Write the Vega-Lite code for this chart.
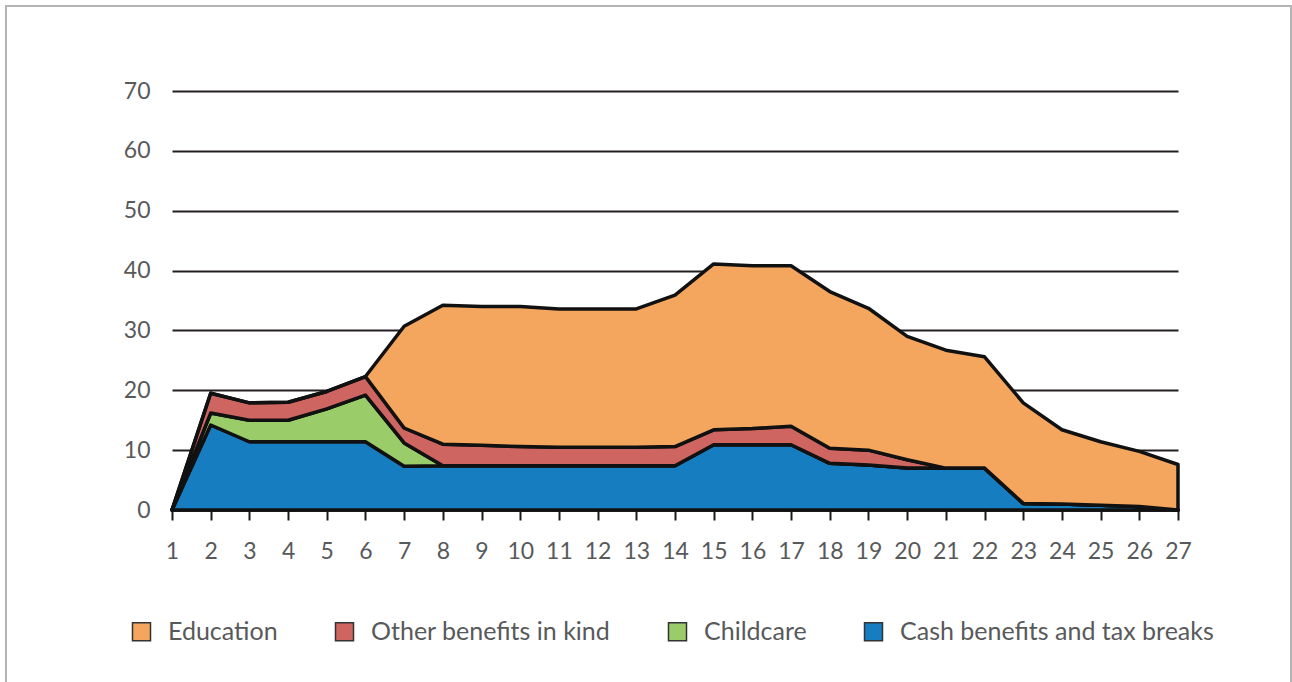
{
  "$schema": "https://vega.github.io/schema/vega-lite/v6.json",
  "width": 1006,
  "height": 419,
  "autosize": {"type": "none"},
  "padding": {"left": 172, "top": 91, "right": 114, "bottom": 172},
  "background": "white",
  "config": {
    "view": {"stroke": null},
    "font": "Lato",
    "axis": {"labelOverlap": false},
    "axisX": {
      "title": null,
      "format": "d",
      "grid": false,
      "domain": true,
      "domainColor": "#1a1a1a",
      "domainWidth": 2.5,
      "ticks": true,
      "tickSize": 10,
      "tickWidth": 2,
      "tickColor": "#1a1a1a",
      "labelFontSize": 23,
      "labelColor": "#58595b",
      "labelPadding": 20,
      "labelFlush": false,
      "labelOverlap": false
    },
    "axisY": {
      "title": null,
      "domain": false,
      "ticks": false,
      "grid": true,
      "gridColor": "#231f20",
      "gridWidth": 2,
      "gridOpacity": 1,
      "labelFontSize": 23,
      "labelColor": "#58595b",
      "labelPadding": 22
    }
  },
  "data": {
    "values": [
      {"age": 1, "series": "Cash benefits and tax breaks", "value": 0},
      {"age": 2, "series": "Cash benefits and tax breaks", "value": 14.2},
      {"age": 3, "series": "Cash benefits and tax breaks", "value": 11.4},
      {"age": 4, "series": "Cash benefits and tax breaks", "value": 11.4},
      {"age": 5, "series": "Cash benefits and tax breaks", "value": 11.4},
      {"age": 6, "series": "Cash benefits and tax breaks", "value": 11.4},
      {"age": 7, "series": "Cash benefits and tax breaks", "value": 7.3},
      {"age": 8, "series": "Cash benefits and tax breaks", "value": 7.4},
      {"age": 9, "series": "Cash benefits and tax breaks", "value": 7.4},
      {"age": 10, "series": "Cash benefits and tax breaks", "value": 7.4},
      {"age": 11, "series": "Cash benefits and tax breaks", "value": 7.4},
      {"age": 12, "series": "Cash benefits and tax breaks", "value": 7.4},
      {"age": 13, "series": "Cash benefits and tax breaks", "value": 7.4},
      {"age": 14, "series": "Cash benefits and tax breaks", "value": 7.4},
      {"age": 15, "series": "Cash benefits and tax breaks", "value": 10.9},
      {"age": 16, "series": "Cash benefits and tax breaks", "value": 10.9},
      {"age": 17, "series": "Cash benefits and tax breaks", "value": 10.9},
      {"age": 18, "series": "Cash benefits and tax breaks", "value": 7.8},
      {"age": 19, "series": "Cash benefits and tax breaks", "value": 7.5},
      {"age": 20, "series": "Cash benefits and tax breaks", "value": 7.0},
      {"age": 21, "series": "Cash benefits and tax breaks", "value": 7.0},
      {"age": 22, "series": "Cash benefits and tax breaks", "value": 7.0},
      {"age": 23, "series": "Cash benefits and tax breaks", "value": 1.1},
      {"age": 24, "series": "Cash benefits and tax breaks", "value": 1.0},
      {"age": 25, "series": "Cash benefits and tax breaks", "value": 0.8},
      {"age": 26, "series": "Cash benefits and tax breaks", "value": 0.6},
      {"age": 27, "series": "Cash benefits and tax breaks", "value": 0},

      {"age": 1, "series": "Childcare", "value": 0},
      {"age": 2, "series": "Childcare", "value": 2.0},
      {"age": 3, "series": "Childcare", "value": 3.6},
      {"age": 4, "series": "Childcare", "value": 3.6},
      {"age": 5, "series": "Childcare", "value": 5.5},
      {"age": 6, "series": "Childcare", "value": 7.8},
      {"age": 7, "series": "Childcare", "value": 3.9},
      {"age": 8, "series": "Childcare", "value": 0},
      {"age": 9, "series": "Childcare", "value": 0},
      {"age": 10, "series": "Childcare", "value": 0},
      {"age": 11, "series": "Childcare", "value": 0},
      {"age": 12, "series": "Childcare", "value": 0},
      {"age": 13, "series": "Childcare", "value": 0},
      {"age": 14, "series": "Childcare", "value": 0},
      {"age": 15, "series": "Childcare", "value": 0},
      {"age": 16, "series": "Childcare", "value": 0},
      {"age": 17, "series": "Childcare", "value": 0},
      {"age": 18, "series": "Childcare", "value": 0},
      {"age": 19, "series": "Childcare", "value": 0},
      {"age": 20, "series": "Childcare", "value": 0},
      {"age": 21, "series": "Childcare", "value": 0},
      {"age": 22, "series": "Childcare", "value": 0},
      {"age": 23, "series": "Childcare", "value": 0},
      {"age": 24, "series": "Childcare", "value": 0},
      {"age": 25, "series": "Childcare", "value": 0},
      {"age": 26, "series": "Childcare", "value": 0},
      {"age": 27, "series": "Childcare", "value": 0},

      {"age": 1, "series": "Other benefits in kind", "value": 0},
      {"age": 2, "series": "Other benefits in kind", "value": 3.3},
      {"age": 3, "series": "Other benefits in kind", "value": 2.9},
      {"age": 4, "series": "Other benefits in kind", "value": 3.0},
      {"age": 5, "series": "Other benefits in kind", "value": 2.9},
      {"age": 6, "series": "Other benefits in kind", "value": 3.1},
      {"age": 7, "series": "Other benefits in kind", "value": 2.5},
      {"age": 8, "series": "Other benefits in kind", "value": 3.6},
      {"age": 9, "series": "Other benefits in kind", "value": 3.4},
      {"age": 10, "series": "Other benefits in kind", "value": 3.2},
      {"age": 11, "series": "Other benefits in kind", "value": 3.1},
      {"age": 12, "series": "Other benefits in kind", "value": 3.1},
      {"age": 13, "series": "Other benefits in kind", "value": 3.1},
      {"age": 14, "series": "Other benefits in kind", "value": 3.2},
      {"age": 15, "series": "Other benefits in kind", "value": 2.5},
      {"age": 16, "series": "Other benefits in kind", "value": 2.7},
      {"age": 17, "series": "Other benefits in kind", "value": 3.1},
      {"age": 18, "series": "Other benefits in kind", "value": 2.5},
      {"age": 19, "series": "Other benefits in kind", "value": 2.5},
      {"age": 20, "series": "Other benefits in kind", "value": 1.4},
      {"age": 21, "series": "Other benefits in kind", "value": 0},
      {"age": 22, "series": "Other benefits in kind", "value": 0},
      {"age": 23, "series": "Other benefits in kind", "value": 0},
      {"age": 24, "series": "Other benefits in kind", "value": 0},
      {"age": 25, "series": "Other benefits in kind", "value": 0},
      {"age": 26, "series": "Other benefits in kind", "value": 0},
      {"age": 27, "series": "Other benefits in kind", "value": 0},

      {"age": 1, "series": "Education", "value": 0},
      {"age": 2, "series": "Education", "value": 0},
      {"age": 3, "series": "Education", "value": 0},
      {"age": 4, "series": "Education", "value": 0},
      {"age": 5, "series": "Education", "value": 0},
      {"age": 6, "series": "Education", "value": 0},
      {"age": 7, "series": "Education", "value": 17.0},
      {"age": 8, "series": "Education", "value": 23.2},
      {"age": 9, "series": "Education", "value": 23.2},
      {"age": 10, "series": "Education", "value": 23.4},
      {"age": 11, "series": "Education", "value": 23.1},
      {"age": 12, "series": "Education", "value": 23.1},
      {"age": 13, "series": "Education", "value": 23.1},
      {"age": 14, "series": "Education", "value": 25.3},
      {"age": 15, "series": "Education", "value": 27.7},
      {"age": 16, "series": "Education", "value": 27.2},
      {"age": 17, "series": "Education", "value": 26.8},
      {"age": 18, "series": "Education", "value": 26.2},
      {"age": 19, "series": "Education", "value": 23.7},
      {"age": 20, "series": "Education", "value": 20.6},
      {"age": 21, "series": "Education", "value": 19.7},
      {"age": 22, "series": "Education", "value": 18.6},
      {"age": 23, "series": "Education", "value": 16.8},
      {"age": 24, "series": "Education", "value": 12.4},
      {"age": 25, "series": "Education", "value": 10.6},
      {"age": 26, "series": "Education", "value": 9.2},
      {"age": 27, "series": "Education", "value": 7.6}
    ]
  },
  "layer": [
    {
      "transform": [
        {
          "calculate": "indexof(['Cash benefits and tax breaks', 'Childcare', 'Other benefits in kind', 'Education'], datum.series)",
          "as": "stackIndex"
        }
      ],
      "mark": {
        "type": "area",
        "line": false,
        "stroke": "#111111",
        "strokeWidth": 3.5,
        "strokeJoin": "round",
        "opacity": 1,
        "fillOpacity": 1
      },
      "encoding": {
        "x": {
          "field": "age",
          "type": "quantitative",
          "scale": {"domain": [1, 27], "nice": false, "zero": false},
          "axis": {"values": [1, 2, 3, 4, 5, 6, 7, 8, 9, 10, 11, 12, 13, 14, 15, 16, 17, 18, 19, 20, 21, 22, 23, 24, 25, 26, 27]}
        },
        "y": {
          "field": "value",
          "type": "quantitative",
          "stack": "zero",
          "scale": {"domain": [0, 70], "nice": false},
          "axis": {"values": [0, 10, 20, 30, 40, 50, 60, 70]}
        },
        "color": {
          "field": "series",
          "type": "nominal",
          "scale": {
            "domain": ["Education", "Other benefits in kind", "Childcare", "Cash benefits and tax breaks"],
            "range": ["#f4a65e", "#cf6560", "#9acc6a", "#167dc0"]
          },
          "legend": {
            "title": null,
            "orient": "none",
            "direction": "horizontal",
            "legendX": -43,
            "legendY": 528,
            "symbolType": "square",
            "symbolSize": 324,
            "symbolStrokeColor": "#333333",
            "symbolStrokeWidth": 1.5,
            "symbolOpacity": 1,
            "labelFontSize": 25,
            "labelColor": "#58595b",
            "labelOffset": 14,
            "labelLimit": 500,
            "columnPadding": 54
          }
        },
        "order": {"field": "stackIndex", "type": "quantitative", "sort": "ascending"}
      }
    },
    {
      "mark": {"type": "rect", "clip": false, "fill": null, "stroke": "#b4b4b4", "strokeWidth": 1.5},
      "encoding": {
        "x": {
          "datum": -3.29,
          "type": "quantitative",
          "axis": {"values": [1, 2, 3, 4, 5, 6, 7, 8, 9, 10, 11, 12, 13, 14, 15, 16, 17, 18, 19, 20, 21, 22, 23, 24, 25, 26, 27]}
        },
        "x2": {"datum": 29.92},
        "y": {
          "datum": 84.2,
          "type": "quantitative",
          "axis": {"values": [0, 10, 20, 30, 40, 50, 60, 70]}
        },
        "y2": {"datum": -40}
      }
    }
  ]
}
